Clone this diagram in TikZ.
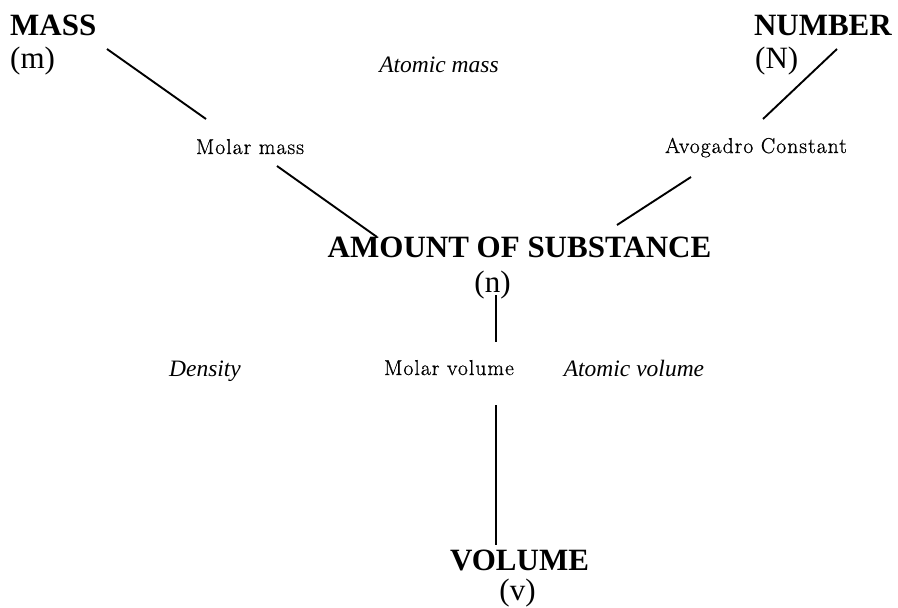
\documentclass[tikz,border=0pt]{standalone}
\usepackage{fontspec}
\setmainfont{Liberation Serif}
\newfontfamily\lmfont[LetterSpace=5,FakeBold=0.8]{Latin Modern Roman}
\begin{document}
\begin{tikzpicture}[x=1pt,y=-1pt,
  big/.style={inner sep=0pt,font=\fontsize{31}{31}\selectfont\bfseries},
  sym/.style={inner sep=0pt,font=\fontsize{31}{31}\selectfont},
  rel/.style={inner sep=0pt,font=\lmfont\fontsize{21.5}{21.5}\selectfont},
  ital/.style={inner sep=0pt,font=\fontsize{23.5}{23.5}\selectfont\itshape},
  conn/.style={line width=1.9pt,black}]
\useasboundingbox (0,0) rectangle (898,608);
% main quantities
\node[big,anchor=base west] (mass) at (10,35) {MASS};
\node[sym,anchor=base west] (m) at (10,68) {(m)};
\node[big,anchor=base east] (number) at (892,35) {NUMBER};
\node[sym,anchor=base west] (N) at (755,68) {(N)};
\node[big,anchor=base] (amount) at (519.5,257) {AMOUNT OF SUBSTANCE};
\node[sym,anchor=base] (n) at (492.5,292) {(n)};
\node[big,anchor=base] (volume) at (519.5,570) {VOLUME};
\node[sym,anchor=base] (v) at (517.5,600) {(v)};
% relation labels
\node[rel,anchor=base] (molmass) at (250,154) {Molar mass};
\node[rel,anchor=base] (avog) at (756,153) {Avogadro Constant};
\node[rel,anchor=base] (molvol) at (449,375) {Molar volume};
\node[ital,anchor=base] (atmass) at (439,72) {Atomic mass};
\node[ital,anchor=base] (density) at (205,376) {Density};
\node[ital,anchor=base] (atvol) at (634,376) {Atomic volume};
% connector ends
\coordinate (a1) at (107,49);
\coordinate (a2) at (206,119);
\coordinate (b1) at (277,166);
\coordinate (b2) at (377,237);
\coordinate (c1) at (837,49);
\coordinate (c2) at (763,119);
\coordinate (d1) at (691,177);
\coordinate (d2) at (617,225);
\coordinate (e1) at (496,295);
\coordinate (e2) at (496,342);
\coordinate (f1) at (496,405);
\coordinate (f2) at (496,545);
\draw[conn] (a1) -- (a2);
\draw[conn] (b1) -- (b2);
\draw[conn] (c1) -- (c2);
\draw[conn] (d1) -- (d2);
\draw[conn] (e1) -- (e2);
\draw[conn] (f1) -- (f2);
\end{tikzpicture}
\end{document}
